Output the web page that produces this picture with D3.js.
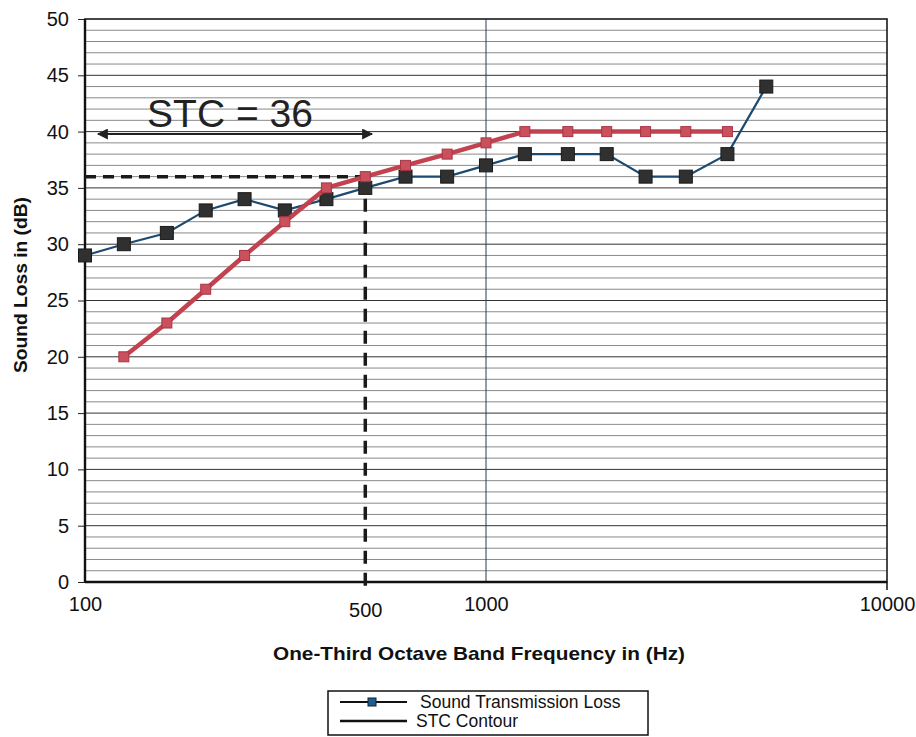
<!DOCTYPE html>
<html><head><meta charset="utf-8">
<script src="https://cdn.jsdelivr.net/npm/d3@7"></script>
<style>html,body{margin:0;padding:0;background:#fff;}svg{display:block;font-family:Arial,"Liberation Sans",sans-serif;}</style>
</head><body>
<svg id="c" width="916" height="737"></svg>
<script>
const freqs = [100,125,160,200,250,315,400,500,630,800,1000,1250,1600,2000,2500,3150,4000,5000];
const stlValues = [29,30,31,33,34,33,34,35,36,36,37,38,38,38,36,36,38,44];
const stcFreqs = [125,160,200,250,315,400,500,630,800,1000,1250,1600,2000,2500,3150,4000];
const stcValues = [20,23,26,29,32,35,36,37,38,39,40,40,40,40,40,40];
const yTicks = [0,5,10,15,20,25,30,35,40,45,50];
const xTickLabels = [100,500,1000,10000];
const stcRating = 36;
const stcFreq = 500;
const legendLabels = ["Sound Transmission Loss","STC Contour"];

const svg = d3.select("#c");
const L=85,R=887,T=19,B=582;
const x = d3.scaleLog().domain([100,10000]).range([L,R]);
const y = d3.scaleLinear().domain([0,50]).range([B,T]);

// gridlines every 1 dB
const g = svg.append("g");
g.selectAll("line.grid").data(d3.range(1,50)).join("line")
  .attr("x1",L).attr("x2",R).attr("y1",d=>y(d)).attr("y2",d=>y(d))
  .attr("stroke",d=>d%5===0?"#333":"#8a8a8a").attr("stroke-width",1);
// vertical gridline at 1000
g.append("line").attr("x1",x(1000)).attr("x2",x(1000)).attr("y1",T).attr("y2",B)
  .attr("stroke","#2a3d55").attr("stroke-width",1);

// axes
const yAxis = d3.axisLeft(y).tickValues(yTicks).tickSize(7).tickPadding(9);
const ya = svg.append("g").attr("transform",`translate(${L},0)`).call(yAxis);
ya.select(".domain").remove();
ya.selectAll("text").attr("font-size",20).attr("fill","#111").attr("font-family","Arial, Liberation Sans, sans-serif");
ya.selectAll("line").attr("stroke","#222");

const xAxis = d3.axisBottom(x).tickValues(xTickLabels).tickFormat(d3.format("d")).tickSize(0).tickPadding(15);
const xa = svg.append("g").attr("transform",`translate(0,${B})`).call(xAxis);
xa.select(".domain").remove();
xa.selectAll("text").attr("font-size",20).attr("fill","#111").attr("font-family","Arial, Liberation Sans, sans-serif")
  .attr("dy",d=>d===500?"1.0em":"0.71em");

// border
svg.append("rect").attr("x",L).attr("y",T).attr("width",R-L).attr("height",B-T)
  .attr("fill","none").attr("stroke","#1a1a1a").attr("stroke-width",1.6);
svg.append("line").attr("x1",L).attr("x2",L).attr("y1",T).attr("y2",B).attr("stroke","#111").attr("stroke-width",2.4);
svg.append("line").attr("x1",L).attr("x2",R).attr("y1",B).attr("y2",B).attr("stroke","#111").attr("stroke-width",2.4);
svg.append("line").attr("x1",R).attr("x2",R).attr("y1",B).attr("y2",B+8).attr("stroke","#111").attr("stroke-width",1.5);

// dashed STC lines
svg.append("line").attr("x1",L).attr("x2",x(stcFreq)).attr("y1",y(stcRating)).attr("y2",y(stcRating))
  .attr("stroke","#1a1a1a").attr("stroke-width",3.5).attr("stroke-dasharray","11,7");
svg.append("line").attr("x1",x(stcFreq)).attr("x2",x(stcFreq)).attr("y1",y(stcRating)).attr("y2",B+12)
  .attr("stroke","#1a1a1a").attr("stroke-width",3.5).attr("stroke-dasharray","13,9");

// STC = 36 annotation
svg.append("text").attr("x",230).attr("y",127).attr("text-anchor","middle")
  .attr("font-size",39).attr("fill","#222").text("STC = " + stcRating);
const defs = svg.append("defs");
defs.append("marker").attr("id","ah").attr("viewBox","0 0 10 10").attr("refX",9).attr("refY",5)
  .attr("markerWidth",14).attr("markerHeight",11).attr("markerUnits","userSpaceOnUse").attr("orient","auto-start-reverse")
  .append("path").attr("d","M0,0 L10,5 L0,10 Z").attr("fill","#222");
svg.append("line").attr("x1",98).attr("x2",372).attr("y1",134).attr("y2",134)
  .attr("stroke","#222").attr("stroke-width",2)
  .attr("marker-start","url(#ah)").attr("marker-end","url(#ah)");

// STL series
const stl = freqs.map((f,i)=>({f,v:stlValues[i]}));
const stc = stcFreqs.map((f,i)=>({f,v:stcValues[i]}));
const line = d3.line().x(d=>x(d.f)).y(d=>y(d.v));
svg.append("path").datum(stl).attr("d",line).attr("fill","none").attr("stroke","#1c4a70").attr("stroke-width",2.2);
svg.selectAll("rect.stl").data(stl).join("rect")
  .attr("x",d=>x(d.f)-6.5).attr("y",d=>y(d.v)-6.5).attr("width",13).attr("height",13)
  .attr("fill","#303030").attr("stroke","#1a1a1a").attr("stroke-width",1);

// STC contour
svg.append("path").datum(stc).attr("d",line).attr("fill","none").attr("stroke","#c2424f").attr("stroke-width",4.5).attr("stroke-linejoin","round");
svg.selectAll("rect.stc").data(stc).join("rect")
  .attr("x",d=>x(d.f)-5).attr("y",d=>y(d.v)-5).attr("width",10).attr("height",10)
  .attr("fill","#c9505c").attr("stroke","#a83545").attr("stroke-width",1);

// axis titles
svg.append("text").attr("transform","translate(27,285) rotate(-90)").attr("text-anchor","middle")
  .attr("font-size",19).attr("font-weight","bold").attr("fill","#111")
  .attr("textLength",176).attr("lengthAdjust","spacingAndGlyphs").text("Sound Loss in (dB)");
svg.append("text").attr("x",479).attr("y",660).attr("text-anchor","middle")
  .attr("font-size",18.5).attr("font-weight","bold").attr("fill","#111")
  .attr("textLength",412).attr("lengthAdjust","spacingAndGlyphs").text("One-Third Octave Band Frequency in (Hz)");

// legend
const lg = svg.append("g");
lg.append("rect").attr("x",328).attr("y",691).attr("width",320).attr("height",44)
  .attr("fill","#fff").attr("stroke","#111").attr("stroke-width",1.5);
lg.append("line").attr("x1",340).attr("x2",407).attr("y1",702).attr("y2",702).attr("stroke","#111").attr("stroke-width",2);
lg.append("rect").attr("x",368).attr("y",698).attr("width",8).attr("height",8).attr("fill","#1f5f8f").attr("stroke","#123").attr("stroke-width",1);
lg.append("line").attr("x1",340).attr("x2",407).attr("y1",721).attr("y2",721).attr("stroke","#111").attr("stroke-width",2.5);
lg.append("text").attr("x",420).attr("y",708).attr("font-size",17.5).attr("fill","#111").text(legendLabels[0]);
lg.append("text").attr("x",416).attr("y",727).attr("font-size",17.5).attr("fill","#111").text(legendLabels[1]);
</script>
</body></html>
